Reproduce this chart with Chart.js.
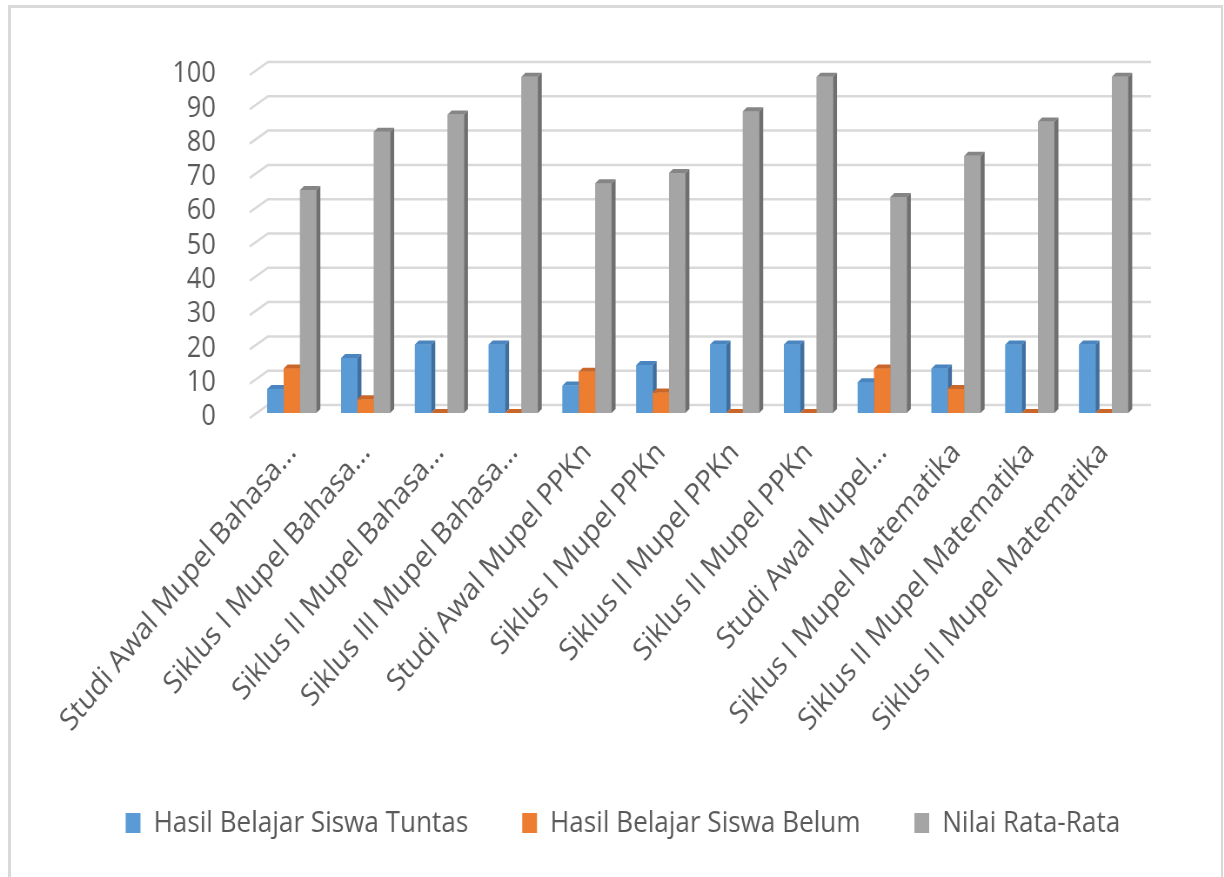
<!DOCTYPE html>
<html>
<head>
<meta charset="utf-8">
<script src="https://cdn.jsdelivr.net/npm/chart.js@4.4.1/dist/chart.umd.min.js"></script>
<style>
  html, body { margin: 0; padding: 0; background: #ffffff; overflow: hidden; }
  #frame { position: absolute; left: 8px; top: 5px; width: 1215px; height: 900px;
           box-sizing: border-box; border: 3px solid #d9d9d9; border-right-width: 2px; }
  #wrap { position: absolute; left: 0; top: 0; width: 1407px; height: 877px;
          transform: scaleX(0.87); transform-origin: 0 0; }
</style>
</head>
<body>
<div id="frame"></div>
<div id="wrap"><canvas id="c" width="1407" height="877"></canvas></div>
<script>
const categories = [
  "Studi Awal Mupel Bahasa...",
  "Siklus I Mupel Bahasa...",
  "Siklus II Mupel Bahasa...",
  "Siklus III Mupel Bahasa...",
  "Studi Awal Mupel PPKn",
  "Siklus I Mupel PPKn",
  "Siklus II Mupel PPKn",
  "Siklus II Mupel PPKn",
  "Studi Awal Mupel...",
  "Siklus I Mupel Matematika",
  "Siklus II Mupel Matematika",
  "Siklus II Mupel Matematika"
];
const seriesNames = ["Hasil Belajar Siswa Tuntas", "Hasil Belajar Siswa Belum", "Nilai Rata-Rata"];
const tuntas = [7, 16, 20, 20, 8, 14, 20, 20, 9, 13, 20, 20];
const belum  = [13, 4, 0, 0, 12, 6, 0, 0, 13, 7, 0, 0];
const rata   = [65, 82, 87, 98, 67, 70, 88, 98, 63, 75, 85, 98];
const yMin = 0, yMax = 100, yStep = 10;

const frontColors = ["#5b9bd5", "#ed7d31", "#a5a5a5"];
const sideColors  = ["#3f6f9e", "#b35c1f", "#6f6f6f"];
const topColors   = ["#4a85bf", "#c9672a", "#858585"];
const textColor = "#595959";
const FONT = "'Open Sans', 'DejaVu Sans', sans-serif";

const depthPlugin = {
  id: "depth3d",
  beforeDatasetsDraw(chart) {
    const ctx = chart.ctx;
    const ys = chart.scales.y;
    const ca = chart.chartArea;
    ctx.save();
    ctx.strokeStyle = "#d9d9d9";
    ctx.lineWidth = 2.5;
    ys.ticks.forEach(t => {
      const py = ys.getPixelForValue(t.value);
      ctx.beginPath();
      ctx.moveTo(ca.left - 6, py + 5);
      ctx.lineTo(ca.left + 15, py - 8);
      ctx.lineTo(ca.right + 12, py - 8);
      ctx.stroke();
    });
    ctx.restore();
  },
  afterDatasetsDraw(chart) {
    const ctx = chart.ctx;
    const dx = 4.6, dy = 4;
    const n = chart.data.labels.length;
    ctx.save();
    for (let i = 0; i < n; i++) {
      for (let d = 0; d < chart.data.datasets.length; d++) {
        const el = chart.getDatasetMeta(d).data[i];
        const p = el.getProps(["x", "y", "base", "width"], true);
        const l = p.x - p.width / 2, r = p.x + p.width / 2;
        ctx.fillStyle = frontColors[d];
        ctx.fillRect(l, p.y, p.width, p.base - p.y);
        ctx.fillStyle = sideColors[d];
        ctx.beginPath();
        ctx.moveTo(r, p.y); ctx.lineTo(r + dx, p.y - dy);
        ctx.lineTo(r + dx, p.base - dy); ctx.lineTo(r, p.base);
        ctx.closePath(); ctx.fill();
        ctx.fillStyle = topColors[d];
        ctx.beginPath();
        ctx.moveTo(l, p.y); ctx.lineTo(l + dx, p.y - dy);
        ctx.lineTo(r + dx, p.y - dy); ctx.lineTo(r, p.y);
        ctx.closePath(); ctx.fill();
      }
    }
    ctx.restore();
  }
};

new Chart(document.getElementById("c"), {
  type: "bar",
  data: {
    labels: categories,
    datasets: [
      { label: seriesNames[0], data: tuntas, backgroundColor: frontColors[0], borderWidth: 0 },
      { label: seriesNames[1], data: belum,  backgroundColor: frontColors[1], borderWidth: 0 },
      { label: seriesNames[2], data: rata,   backgroundColor: frontColors[2], borderWidth: 0 }
    ]
  },
  options: {
    responsive: false,
    animation: false,
    devicePixelRatio: 1,
    categoryPercentage: 0.665,
    barPercentage: 1.0,
    layout: { padding: { left: 50, right: 25, top: 70, bottom: 29 } },
    plugins: {
      tooltip: { enabled: false },
      legend: {
        position: "bottom",
        labels: {
          boxWidth: 17, boxHeight: 20, padding: 62,
          color: textColor, font: { family: FONT, size: 30 }
        }
      }
    },
    scales: {
      y: {
        min: yMin, max: yMax,
        grid: { display: false },
        border: { display: false },
        ticks: { stepSize: yStep, autoSkip: false, color: textColor, padding: 37, labelOffset: 4,
                 font: { family: FONT, size: 29 } },
        afterFit(scale) { scale.width = 243; }
      },
      ySpace: {
        position: "right",
        min: yMin, max: yMax,
        grid: { display: false },
        border: { display: false },
        ticks: { display: false },
        afterFit(scale) { scale.width = 71; }
      },
      x: {
        grid: { display: false },
        border: { display: false },
        ticks: { autoSkip: false, minRotation: 47, maxRotation: 47, color: textColor,
                 padding: 14, font: { family: FONT, size: 30.5 } },
        afterFit(scale) { scale.height = 333; }
      }
    }
  },
  plugins: [depthPlugin]
});
</script>
</body>
</html>
